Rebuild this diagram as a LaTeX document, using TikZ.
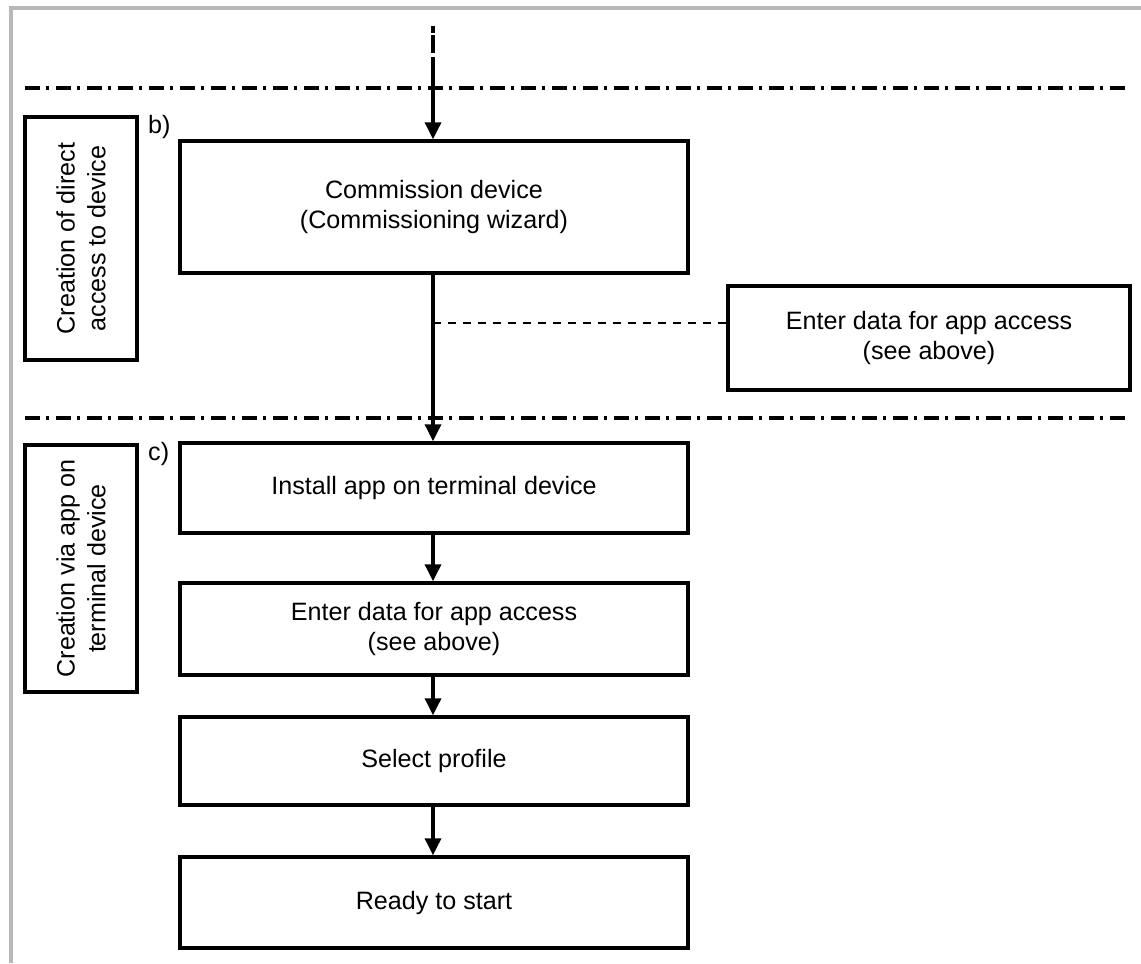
\documentclass[tikz,border=0pt]{standalone}
\usepackage{fontspec}
\setmainfont{Liberation Sans}
\usetikzlibrary{arrows.meta,calc}

\tikzset{
  stepbox/.style={draw, line width=2pt, minimum width=10.16cm, align=center,
    font=\fontsize{14.3}{17.5}\selectfont},
  sidebox/.style={draw, line width=2pt, rotate=90, minimum height=2.24cm, align=center,
    font=\fontsize{14.3}{17.5}\selectfont},
  flow/.style={line width=2pt, -{Triangle[width=0.32cm,length=0.34cm]}},
  zone/.style={line width=2.2pt, dash pattern=on 0.3cm off 0.13cm on 0.06cm off 0.13cm},
  tag/.style={anchor=west, font=\fontsize{14.3}{17.5}\selectfont}
}

\begin{document}
\begin{tikzpicture}[x=0.02cm, y=-0.02cm]
  \useasboundingbox (0,0) rectangle (1141,963);
  % frame
  \draw[line width=2.4pt, color=black!28] (11,963) -- (11,8) -- (1141,8);
  % zone borders
  \draw[zone] (25,88) -- (1131,88);
  \draw[zone] (25,418) -- (1131,418);

  % b) direct access
  \node[sidebox, minimum width=4.86cm] (zoneb) at (81,238.5) {Creation of direct\\access to device};
  \node[tag] (labb) at (142,127) {b)};
  \node[stepbox, minimum height=2.64cm] (comm) at (434,207) {Commission device\\(Commissioning wizard)};
  \node[stepbox, minimum width=8.04cm, minimum height=2.08cm] (data1) at (929,338) {Enter data for app access\\(see above)};

  % c) via app
  \node[sidebox, minimum width=4.94cm] (zonec) at (81,568.5) {Creation via app on\\terminal device};
  \node[tag] (labc) at (142,454) {c)};
  \node[stepbox, minimum height=1.8cm] (inst) at (434,488) {Install app on terminal device};
  \node[stepbox, minimum height=1.84cm] (data2) at (434,629) {Enter data for app access\\(see above)};
  \node[stepbox, minimum height=1.76cm] (prof) at (434,761) {Select profile};
  \node[stepbox, minimum height=1.82cm] (ready) at (434,902.5) {Ready to start};

  % connectors
  \coordinate (in1) at (433,26);
  \coordinate (in2) at (433,57);
  \coordinate (tap) at (433,323);
  \draw[line width=2pt, dash pattern=on 0.14cm off 0.05cm on 0.36cm off 0.1cm] (in1) -- (in2);
  \draw[flow] (in2) -- (in2 |- comm.north);
  \draw[flow] (comm.south -| tap) -- (tap |- inst.north);
  \draw[line width=1.6pt, dash pattern=on 0.16cm off 0.14cm] (tap) -- (tap -| data1.west);
  \draw[flow] (inst.south -| tap) -- (tap |- data2.north);
  \draw[flow] (data2.south -| tap) -- (tap |- prof.north);
  \draw[flow] (prof.south -| tap) -- (tap |- ready.north);
\end{tikzpicture}
\end{document}
